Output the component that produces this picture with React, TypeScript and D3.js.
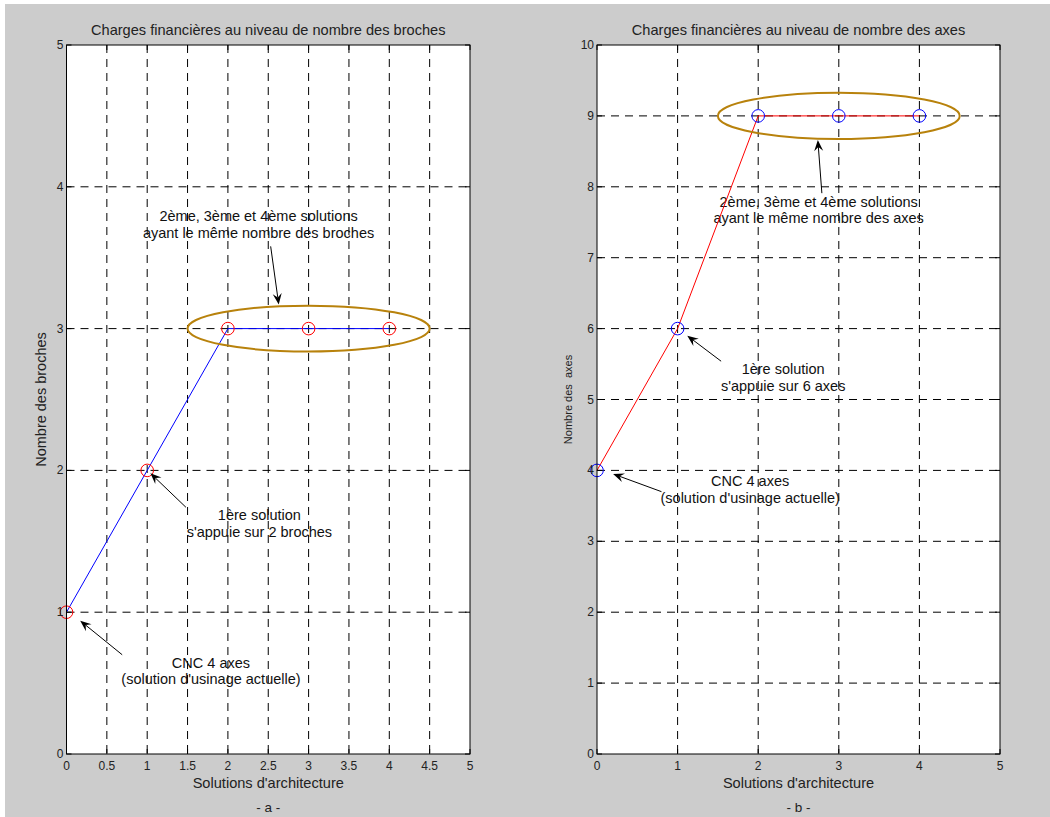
import React from "react";
import * as d3 from "d3";

// ---- data ----
const solutions = [0, 1, 2, 3, 4];
const nbBroches = [1, 2, 3, 3, 3];
const nbAxes = [4, 6, 9, 9, 9];
const xTicksA = [0, 0.5, 1, 1.5, 2, 2.5, 3, 3.5, 4, 4.5, 5];
const yTicksA = [0, 1, 2, 3, 4, 5];
const xTicksB = [0, 1, 2, 3, 4, 5];
const yTicksB = [0, 1, 2, 3, 4, 5, 6, 7, 8, 9, 10];

const W = 1050;
const H = 817;
const FONT = "'Liberation Sans', Arial, Helvetica, sans-serif";
const ELLIPSE = "#b8820c";

type Ann = { lines: string[]; tx: number; ty: number; from: [number, number]; to: [number, number] };

const panelA = {
  title: "Charges financières au niveau de nombre des broches",
  ylabel: "Nombre des broches",
  ylabelSize: 14.5,
  sub: "- a -",
  x0: 66.5, x1: 470, y0: 754, y1: 45,
  xDomain: [0, 5], yDomain: [0, 5],
  xTicks: xTicksA, yTicks: yTicksA,
  values: nbBroches,
  lineColor: "#0000ff", markerColor: "#ff0000",
  ellipse: { cx: 3, cy: 3, rx: 1.5, ry: 0.162 },
  anns: [
    { lines: ["2ème, 3ème et 4ème solutions", "ayant le même nombre des broches"], tx: 2.38, ty: 3.76, from: [2.53, 3.58], to: [2.63, 3.17] },
    { lines: ["1ère solution", "s'appuie sur 2 broches"], tx: 2.39, ty: 1.65, from: [1.48, 1.74], to: [1.04, 1.98] },
    { lines: ["CNC 4 axes", "(solution d'usinage actuelle)"], tx: 1.79, ty: 0.61, from: [0.69, 0.7], to: [0.17, 0.94] },
  ] as Ann[],
};

const panelB = {
  title: "Charges financières au niveau de nombre des axes",
  ylabel: "Nombre des  axes",
  ylabelSize: 11,
  sub: "- b -",
  x0: 597, x1: 1000, y0: 754, y1: 45,
  xDomain: [0, 5], yDomain: [0, 10],
  xTicks: xTicksB, yTicks: yTicksB,
  values: nbAxes,
  lineColor: "#ff0000", markerColor: "#0000ff",
  ellipse: { cx: 3, cy: 9, rx: 1.5, ry: 0.325 },
  anns: [
    { lines: ["2ème, 3ème et 4ème solutions", "ayant le même nombre des axes"], tx: 2.75, ty: 7.72, from: [2.79, 7.91], to: [2.74, 8.66] },
    { lines: ["1ère solution", "s'appuie sur 6 axes"], tx: 2.31, ty: 5.36, from: [1.54, 5.54], to: [1.12, 5.9] },
    { lines: ["CNC 4 axes", "(solution d'usinage actuelle)"], tx: 1.9, ty: 3.78, from: [0.8, 3.7], to: [0.2, 3.95] },
  ] as Ann[],
};

function Arrow({ x1, y1, x2, y2 }: { x1: number; y1: number; x2: number; y2: number }) {
  const ang = Math.atan2(y2 - y1, x2 - x1);
  const L = 11, Wd = 4.5, notch = 7;
  const ux = Math.cos(ang), uy = Math.sin(ang);
  const px = -uy, py = ux;
  const bx = x2 - ux * L, by = y2 - uy * L;
  const nx = x2 - ux * notch, ny = y2 - uy * notch;
  const pts = [
    [x2, y2],
    [bx + px * Wd, by + py * Wd],
    [nx, ny],
    [bx - px * Wd, by - py * Wd],
  ];
  return (
    <g>
      <line x1={x1} y1={y1} x2={nx} y2={ny} stroke="#000" strokeWidth={1} />
      <polygon points={pts.map((p) => p.join(",")).join(" ")} fill="#000" />
    </g>
  );
}

function Panel({ p }: { p: typeof panelA }) {
  const x = d3.scaleLinear().domain(p.xDomain).range([p.x0, p.x1]);
  const y = d3.scaleLinear().domain(p.yDomain).range([p.y0, p.y1]);
  const line = d3
    .line<number>()
    .x((_, i) => x(solutions[i]))
    .y((v) => y(v));
  const cx = (p.x0 + p.x1) / 2;
  const tick = 5;
  return (
    <g fontFamily={FONT} fill="#222">
      <rect x={p.x0} y={p.y1} width={p.x1 - p.x0} height={p.y0 - p.y1} fill="#fff" />
      {/* grid */}
      <g stroke="#000" strokeWidth={1} strokeDasharray="8,6">
        {p.xTicks.filter((t) => t > p.xDomain[0] && t < p.xDomain[1]).map((t) => (
          <line key={"gx" + t} x1={x(t)} x2={x(t)} y1={p.y1} y2={p.y0} />
        ))}
        {p.yTicks.filter((t) => t > p.yDomain[0] && t < p.yDomain[1]).map((t) => (
          <line key={"gy" + t} x1={p.x0} x2={p.x1} y1={y(t)} y2={y(t)} />
        ))}
      </g>
      {/* annotation text */}
      {p.anns.map((a, i) => (
        <text key={"t" + i} x={x(a.tx)} y={y(a.ty)} textAnchor="middle" fontSize={14.5} fill="#111">
          {a.lines.map((l, j) => (
            <tspan key={j} x={x(a.tx)} dy={j === 0 ? 0 : 16.8}>{l}</tspan>
          ))}
        </text>
      ))}
      {/* data line */}
      <path d={line(p.values) || ""} fill="none" stroke={p.lineColor} strokeWidth={1} />
      {/* markers */}
      {p.values.map((v, i) => (
        <circle key={"m" + i} cx={x(solutions[i])} cy={y(v)} r={6.3} fill="none" stroke={p.markerColor} strokeWidth={1} />
      ))}
      {/* ellipse */}
      <ellipse
        cx={x(p.ellipse.cx)}
        cy={y(p.ellipse.cy)}
        rx={x(p.ellipse.cx + p.ellipse.rx) - x(p.ellipse.cx)}
        ry={y(p.ellipse.cy) - y(p.ellipse.cy + p.ellipse.ry)}
        fill="none"
        stroke={ELLIPSE}
        strokeWidth={2}
      />
      {/* arrows */}
      {p.anns.map((a, i) => (
        <Arrow key={"a" + i} x1={x(a.from[0])} y1={y(a.from[1])} x2={x(a.to[0])} y2={y(a.to[1])} />
      ))}
      {/* box and ticks */}
      <rect x={p.x0} y={p.y1} width={p.x1 - p.x0} height={p.y0 - p.y1} fill="none" stroke="#000" strokeWidth={1} />
      <g stroke="#000" strokeWidth={1}>
        {p.xTicks.map((t) => (
          <g key={"tx" + t}>
            <line x1={x(t)} x2={x(t)} y1={p.y0} y2={p.y0 - tick} />
            <line x1={x(t)} x2={x(t)} y1={p.y1} y2={p.y1 + tick} />
          </g>
        ))}
        {p.yTicks.map((t) => (
          <g key={"ty" + t}>
            <line x1={p.x0} x2={p.x0 + tick} y1={y(t)} y2={y(t)} />
            <line x1={p.x1} x2={p.x1 - tick} y1={y(t)} y2={y(t)} />
          </g>
        ))}
      </g>
      {/* tick labels */}
      {p.xTicks.map((t) => (
        <text key={"lx" + t} x={x(t)} y={p.y0 + 16} textAnchor="middle" fontSize={12}>{String(t)}</text>
      ))}
      {p.yTicks.map((t) => (
        <text key={"ly" + t} x={p.x0 - 3} y={y(t) + 4} textAnchor="end" fontSize={12}>{String(t)}</text>
      ))}
      {/* labels */}
      <text x={cx} y={35} textAnchor="middle" fontSize={14.6}>{p.title}</text>
      <text x={cx} y={788} textAnchor="middle" fontSize={14.6}>Solutions d'architecture</text>
      <text x={cx} y={812} textAnchor="middle" fontSize={13.5}>{p.sub}</text>
      <text
        transform={`translate(${p.x0 - (p.ylabelSize > 12 ? 21 : 25)},${(p.y0 + p.y1) / 2}) rotate(-90)`}
        textAnchor="middle"
        fontSize={p.ylabelSize}
        style={{ whiteSpace: "pre" }}
      >
        {p.ylabel}
      </text>
    </g>
  );
}

export default function App() {
  return (
    <svg
      width={W}
      height={H}
      style={{ position: "absolute", left: 0, top: 0, display: "block" }}
      xmlns="http://www.w3.org/2000/svg"
    >
      <rect x={0} y={0} width={W} height={H} fill="#fff" />
      <rect x={5} y={4} width={W - 5} height={H - 4} fill="#cccccc" />
      <Panel p={panelA} />
      <Panel p={panelB} />
    </svg>
  );
}
